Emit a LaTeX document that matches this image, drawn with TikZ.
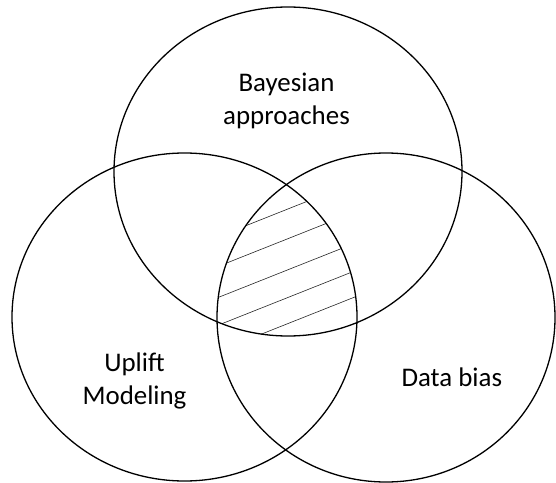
\documentclass[tikz,border=0pt]{standalone}
\usepackage{fontspec}
\setmainfont{Carlito}
\begin{document}
\begin{tikzpicture}[x=1bp,y=-1bp,
  setline/.style={draw=black,line width=1.3bp},
  hatchline/.style={draw=black!85,line width=0.6bp},
  setlabel/.style={inner sep=0pt,align=center,font=\fontsize{27}{33}\selectfont}]
\useasboundingbox (0,0) rectangle (556,483);

% centres of the three sets
\coordinate (ctop) at (288,171.5);
\coordinate (cleft) at (184.5,317);
\coordinate (cright) at (386,317.5);

% hatching of the triple overlap
\begin{scope}
  \clip (ctop) ellipse [x radius=174bp, y radius=164.5bp];
  \clip (cleft) ellipse [x radius=172.5bp, y radius=164bp];
  \clip (cright) ellipse [x radius=169bp, y radius=164.5bp];
  \foreach \ya/\yb in {243.9/172.4, 273.6/202.1, 304.7/233.2, 332.4/260.9, 358.5/287.0}
    \draw[hatchline] (200,\ya) -- (380,\yb);
\end{scope}

% outlines
\draw[setline] (ctop) ellipse [x radius=174bp, y radius=164.5bp];
\draw[setline] (cleft) ellipse [x radius=172.5bp, y radius=164bp];
\draw[setline] (cright) ellipse [x radius=169bp, y radius=164.5bp];

% labels
\node[setlabel] (bayes) at (286.5,101) {Bayesian\\approaches};
\node[setlabel] (uplift) at (134.5,381) {Uplift\\Modeling};
\node[setlabel,anchor=base] (bias) at (451.8,386.7) {Data bias};
\end{tikzpicture}
\end{document}
